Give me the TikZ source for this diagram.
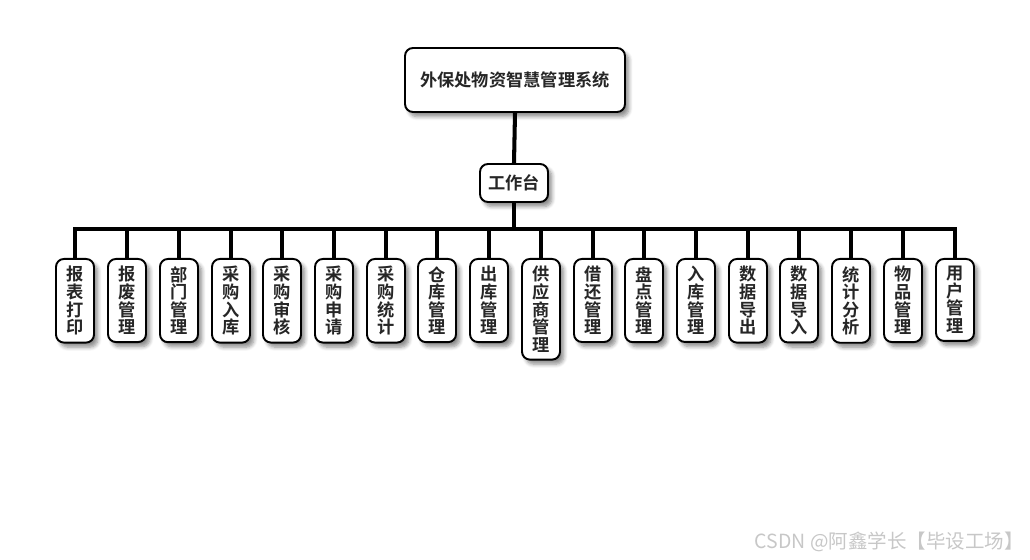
\documentclass[tikz,border=0pt]{standalone}
\usepackage{fontspec}
\setmainfont{Noto Sans CJK SC}
\newfontfamily\cjkbold{Noto Sans CJK SC Bold}
\usetikzlibrary{shadows.blur}

\tikzset{
  box/.style={draw=black, line width=1.1pt, rounded corners=4.5pt, fill=white,
    blur shadow={shadow xshift=2.2pt, shadow yshift=-2.6pt, shadow blur steps=6, shadow opacity=45},
    text=black!85, font=\cjkbold\fontsize{9.8}{10}\selectfont, align=center},
  leafbox/.style={box, anchor=north, minimum width=0.76cm, inner xsep=1pt, inner ysep=4.2pt},
  conn/.style={line width=2.3pt}
}

\begin{document}
\begin{tikzpicture}[x=0.02cm,y=-0.02cm]
            \useasboundingbox (0,0) rectangle (1030,560);

            \node[box, minimum width=4.4cm, minimum height=1.28cm] (root) at (515,80) {外保处物资智慧管理系统};
            \node[box, minimum width=1.36cm, minimum height=0.76cm] (ws) at (514,183) {工作台};

            \node[leafbox] (l1) at (75,258) {报\\表\\打\\印};
            \node[leafbox] (l2) at (127,258) {报\\废\\管\\理};
            \node[leafbox] (l3) at (179,258) {部\\门\\管\\理};
            \node[leafbox] (l4) at (231,258) {采\\购\\入\\库};
            \node[leafbox] (l5) at (282,258) {采\\购\\审\\核};
            \node[leafbox] (l6) at (334,258) {采\\购\\申\\请};
            \node[leafbox] (l7) at (386,258) {采\\购\\统\\计};
            \node[leafbox] (l8) at (437,258) {仓\\库\\管\\理};
            \node[leafbox] (l9) at (489,258) {出\\库\\管\\理};
            \node[leafbox] (l10) at (541,258) {供\\应\\商\\管\\理};
            \node[leafbox] (l11) at (593,258) {借\\还\\管\\理};
            \node[leafbox] (l12) at (644,258) {盘\\点\\管\\理};
            \node[leafbox] (l13) at (696,258) {入\\库\\管\\理};
            \node[leafbox] (l14) at (748,258) {数\\据\\导\\出};
            \node[leafbox] (l15) at (799,258) {数\\据\\导\\入};
            \node[leafbox] (l16) at (851,258) {统\\计\\分\\析};
            \node[leafbox] (l17) at (903,258) {物\\品\\管\\理};
            \node[leafbox] (l18) at (955,258) {用\\户\\管\\理};

            % bus line
            \coordinate (busL) at (75,229);
            \coordinate (busR) at (955,229);

            \draw[conn] (root.south) -- (ws.north);
            \draw[conn] (ws.south) -- (ws.south |- busL);
            \draw[conn, line cap=rect] (busL) -- (busR);
            \draw[conn] (l1.north |- busL) -- (l1.north);
            \draw[conn] (l2.north |- busL) -- (l2.north);
            \draw[conn] (l3.north |- busL) -- (l3.north);
            \draw[conn] (l4.north |- busL) -- (l4.north);
            \draw[conn] (l5.north |- busL) -- (l5.north);
            \draw[conn] (l6.north |- busL) -- (l6.north);
            \draw[conn] (l7.north |- busL) -- (l7.north);
            \draw[conn] (l8.north |- busL) -- (l8.north);
            \draw[conn] (l9.north |- busL) -- (l9.north);
            \draw[conn] (l10.north |- busL) -- (l10.north);
            \draw[conn] (l11.north |- busL) -- (l11.north);
            \draw[conn] (l12.north |- busL) -- (l12.north);
            \draw[conn] (l13.north |- busL) -- (l13.north);
            \draw[conn] (l14.north |- busL) -- (l14.north);
            \draw[conn] (l15.north |- busL) -- (l15.north);
            \draw[conn] (l16.north |- busL) -- (l16.north);
            \draw[conn] (l17.north |- busL) -- (l17.north);
            \draw[conn] (l18.north |- busL) -- (l18.north);

            \node[text=black!22, font=\fontsize{11.1}{12}\selectfont, anchor=east, inner sep=0pt] (mark) at (1024,542) {CSDN @阿鑫学长【毕设工场】};
        \end{tikzpicture}
\end{document}
